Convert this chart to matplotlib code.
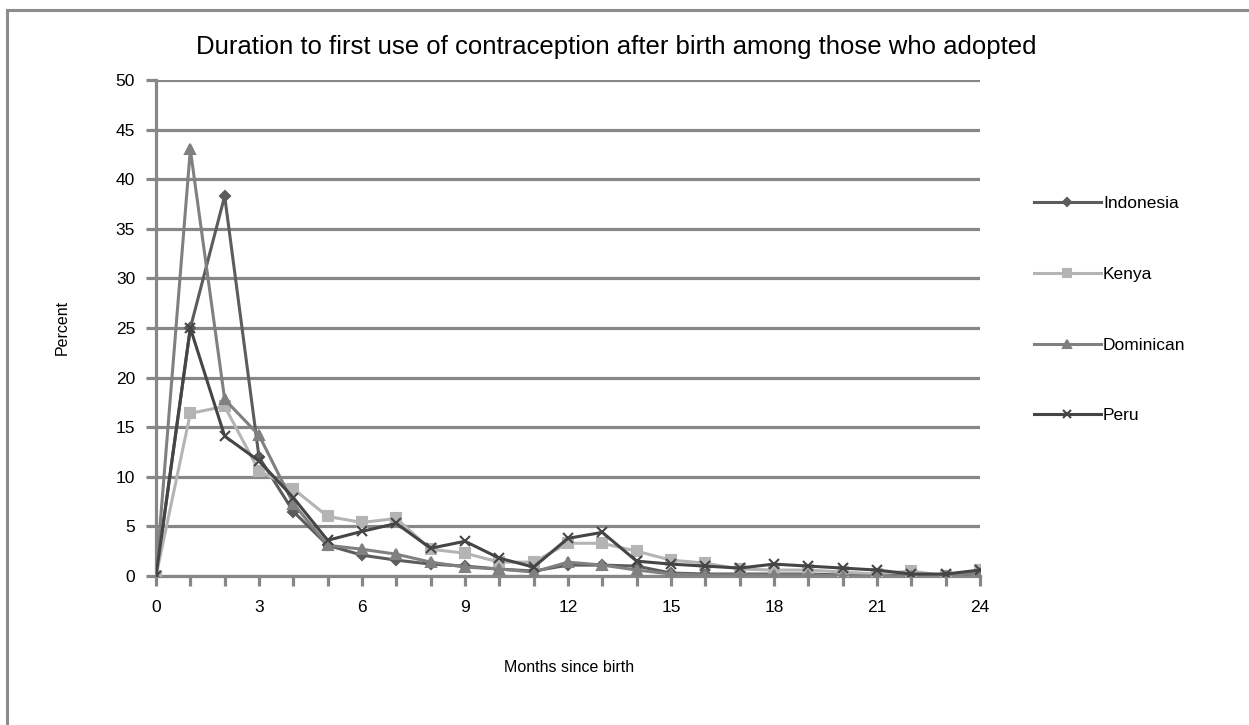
import matplotlib.pyplot as plt
from matplotlib.lines import Line2D

plt.rcParams['font.family'] = ['Liberation Sans', 'DejaVu Sans']

months = list(range(25))
indonesia = [0, 25.0, 38.3, 12.0, 6.5, 3.1, 2.1, 1.6, 1.2, 1.0, 0.7, 0.5, 1.1, 1.1, 1.0, 0.3, 0.2, 0.2, 0.2, 0.2, 0.1, 0.1, 0.0, 0.0, 0.3]
kenya = [0, 16.4, 17.1, 10.6, 8.8, 6.0, 5.4, 5.8, 2.7, 2.3, 1.4, 1.4, 3.3, 3.3, 2.5, 1.6, 1.3, 0.7, 0.6, 0.6, 0.4, 0.2, 0.5, 0.0, 0.6]
dominican = [0, 43.0, 17.8, 14.2, 7.3, 3.1, 2.7, 2.2, 1.4, 0.9, 0.7, 0.4, 1.4, 1.1, 0.6, 0.2, 0.1, 0.1, 0.1, 0.1, 0.0, 0.0, 0.0, 0.0, 0.3]
peru = [0, 25.0, 14.1, 11.6, 7.9, 3.6, 4.5, 5.3, 2.8, 3.5, 1.8, 0.9, 3.8, 4.4, 1.5, 1.2, 1.0, 0.8, 1.2, 1.0, 0.8, 0.6, 0.2, 0.2, 0.6]

title = 'Duration to first use of contraception after birth among those who adopted'
grid_col = '#878787'

fig = plt.figure(figsize=(12.49, 7.25), dpi=100)
ax = fig.add_axes([0.1249, 0.2055, 0.6597, 0.6841])

# outer chart border (top and left only visible)
fig.add_artist(Line2D([7 / 1249, 1], [1 - 10 / 725, 1 - 10 / 725], color='#8c8c8c', lw=2.2, transform=fig.transFigure))
fig.add_artist(Line2D([7 / 1249, 7 / 1249], [0, 1 - 10 / 725], color='#8c8c8c', lw=2.2, transform=fig.transFigure))

series = [
    ('Indonesia', indonesia, '#5c5c5c', 'D', 5),
    ('Kenya', kenya, '#b4b4b4', 's', 7),
    ('Dominican', dominican, '#808080', '^', 7),
    ('Peru', peru, '#454545', 'x', 7),
]
for name, vals, col, mk, ms in series:
    ax.plot(months, vals, color=col, lw=2.2, marker=mk, ms=ms, mew=1.5, label=name, zorder=3)

ax.set_xlim(0, 24)
ax.set_ylim(0, 50)
ax.set_yticks(range(0, 51, 5))
ax.set_xticks(months)
ax.set_xticklabels([str(m) if m % 3 == 0 else '' for m in months])
ax.yaxis.grid(True, color=grid_col, lw=2.3)
ax.set_axisbelow(True)
for s in ['top', 'right']:
    ax.spines[s].set_visible(False)
for s in ['left', 'bottom']:
    ax.spines[s].set_color(grid_col)
    ax.spines[s].set_linewidth(2.3)
ax.tick_params(axis='both', colors=grid_col, width=2.3, length=7, labelsize=12.5, labelcolor='black')
ax.tick_params(axis='x', pad=10)
ax.tick_params(axis='y', pad=8)

fig.text(0.4935, 0.935, title, ha='center', va='center', fontsize=18.5)
fig.text(0.05, 0.548, 'Percent', rotation=90, ha='center', va='center', fontsize=11.5)
fig.text(0.4555, 0.079, 'Months since birth', ha='center', va='center', fontsize=11.5)

fig.legend(loc='upper left', bbox_to_anchor=(0.815, 0.751), frameon=False, fontsize=12.5,
           labelspacing=3.2, handlelength=3.9, handletextpad=0.1, markerscale=0.8)

fig.savefig('out.png', dpi=100, facecolor='white')
